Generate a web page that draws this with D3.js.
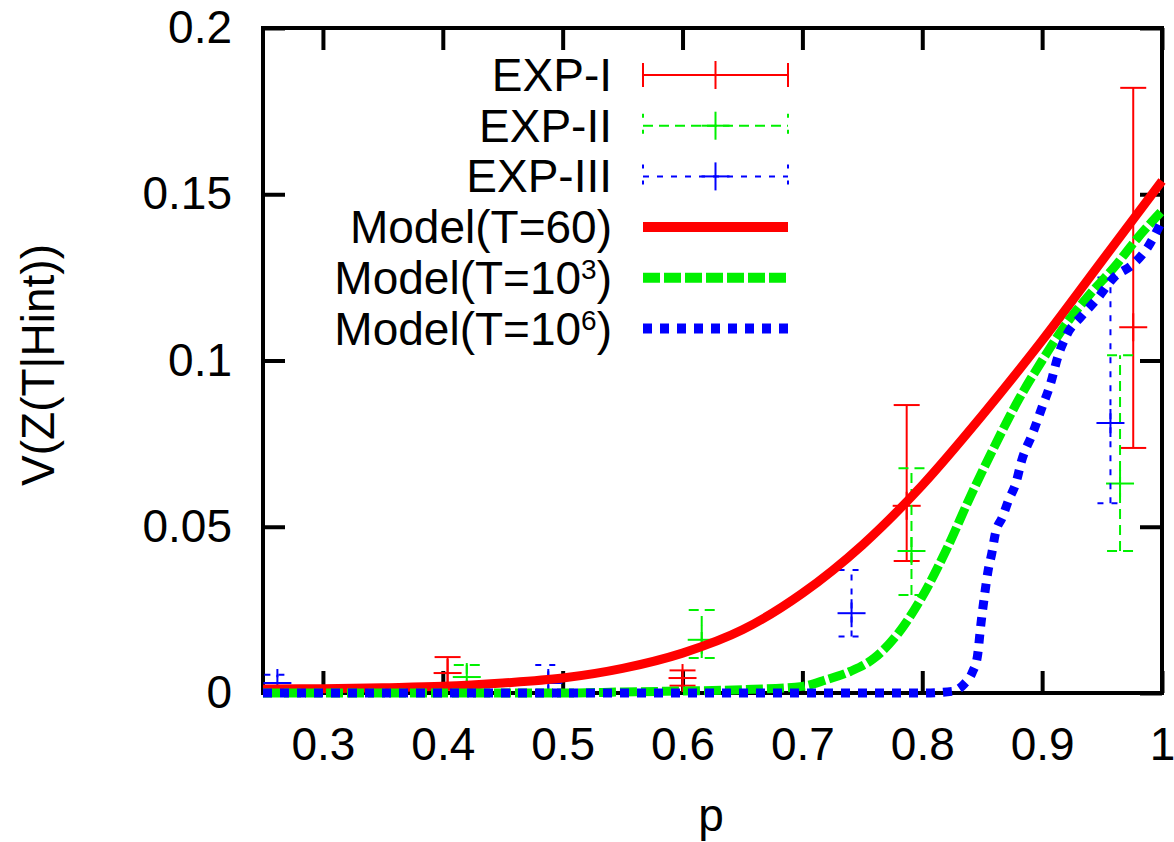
<!DOCTYPE html>
<html>
<head>
<meta charset="utf-8">
<script src="https://cdn.jsdelivr.net/npm/d3@7"></script>
<style>
  body { margin: 0; background: #fff; }
  text { font-family: "Liberation Sans", Arial, sans-serif; }
</style>
</head>
<body>
<div id="chart"></div>
<script>

//////////// *** DATA *** ////////////

var xTicks = [0.3, 0.4, 0.5, 0.6, 0.7, 0.8, 0.9, 1];
var yTicks = [0, 0.05, 0.1, 0.15, 0.2];

// model curves
var pT60  = [0.25, 0.3, 0.35, 0.4, 0.45, 0.5, 0.55, 0.6, 0.65, 0.7, 0.75, 0.8, 0.85, 0.9, 0.95, 1.0];
var vT60  = [0.0012, 0.0013, 0.0016, 0.002, 0.003, 0.0045, 0.0074, 0.012, 0.019, 0.03, 0.0445, 0.0625, 0.0835, 0.106, 0.13, 0.154];

var pT1e3 = [0.25, 0.4, 0.5, 0.55, 0.6, 0.65, 0.7, 0.72, 0.74, 0.76, 0.78, 0.8, 0.82, 0.84, 0.86, 0.88, 0.9, 0.92, 0.94, 0.96, 0.98, 1.0];
var vT1e3 = [0, 0, 0, 0.0003, 0.0006, 0.001, 0.002, 0.004, 0.0065, 0.0105, 0.018, 0.029, 0.043, 0.059, 0.074, 0.088, 0.1, 0.111, 0.12, 0.128, 0.137, 0.145];

var pT1e6 = [0.25, 0.5, 0.8, 0.825, 0.835, 0.842, 0.846, 0.849, 0.852, 0.855, 0.858, 0.861, 0.867, 0.872, 0.878, 0.883, 0.892, 0.9, 0.907, 0.913, 0.921, 0.932, 0.946, 0.96, 0.976, 0.988, 1.0];
var vT1e6 = [0, 0, 0, 0.0005, 0.0027, 0.0064, 0.011, 0.021, 0.0295, 0.037, 0.042, 0.048, 0.053, 0.058, 0.063, 0.07, 0.078, 0.086, 0.093, 0.101, 0.108, 0.113, 0.1186, 0.125, 0.129, 0.134, 0.142];

// experiments (value, low, high)
var pExp1  = [0.404, 0.6, 0.787, 0.976];
var vExp1  = [0.006, 0.0045, 0.0563, 0.11];
var loExp1 = [0.001, 0.0022, 0.0397, 0.0737];
var hiExp1 = [0.0108, 0.0068, 0.0866, 0.182];

var pExp2  = [0.42, 0.616, 0.791, 0.965];
var vExp2  = [0.0048, 0.016, 0.0427, 0.063];
var loExp2 = [0.001, 0.0105, 0.0295, 0.0427];
var hiExp2 = [0.0084, 0.025, 0.0676, 0.1016];

var pExp3  = [0.262, 0.488, 0.741, 0.957];
var vExp3  = [0.003, 0.003, 0.024, 0.0812];
var loExp3 = [0.0005, 0.0005, 0.017, 0.0571];
var hiExp3 = [0.0055, 0.0084, 0.037, 0.125];

//////////// *** VARIABLES *** ////////////

var W = 1174, H = 842;
var margin = {top: 28, right: 12, bottom: 149, left: 263},
    width = W - margin.left - margin.right,
    height = H - margin.top - margin.bottom;

var red = "#ff0000", green = "#00f000", blue = "#0000ff";

var svg = d3.select("#chart").append("svg")
  .attr("width", W)
  .attr("height", H);

var g = svg.append("g")
  .attr("transform", "translate(" + margin.left + "," + margin.top + ")");

var x = d3.scaleLinear().domain([0.25, 1]).range([0, width]);
var y = d3.scaleLinear().domain([0, 0.2]).range([height, 0]);

var fmt = function(d) { return String(+d.toFixed(2)); };

//////////// *** AXES *** ////////////

function styleAxis(sel) {
  sel.select(".domain").remove();
  sel.selectAll("line").attr("stroke", "#000").attr("stroke-width", 4);
  sel.selectAll("text").attr("font-size", 46).attr("fill", "#000")
    .style("font-family", "'Liberation Sans', Arial, sans-serif");
}

g.append("g")
  .attr("transform", "translate(0," + height + ")")
  .call(d3.axisBottom(x).tickValues(xTicks).tickFormat(fmt).tickSizeInner(-22).tickSizeOuter(0).tickPadding(34))
  .call(styleAxis);

g.append("g")
  .call(d3.axisTop(x).tickValues(xTicks).tickFormat("").tickSizeInner(-22).tickSizeOuter(0))
  .call(styleAxis);

g.append("g")
  .call(d3.axisLeft(y).tickValues(yTicks).tickFormat(fmt).tickSizeInner(-22).tickSizeOuter(0).tickPadding(31))
  .call(styleAxis);

g.append("g")
  .attr("transform", "translate(" + width + ",0)")
  .call(d3.axisRight(y).tickValues(yTicks).tickFormat("").tickSizeInner(-22).tickSizeOuter(0))
  .call(styleAxis);

g.append("rect")
  .attr("width", width)
  .attr("height", height)
  .attr("fill", "none")
  .attr("stroke", "#000")
  .attr("stroke-width", 4);

// axis titles
svg.append("text")
  .attr("x", 711)
  .attr("y", 831)
  .attr("text-anchor", "middle")
  .attr("font-size", 46)
  .text("p");

svg.append("text")
  .attr("transform", "translate(54,365) rotate(-90)")
  .attr("text-anchor", "middle")
  .attr("font-size", 46)
  .text("V(Z(T|Hint))");

//////////// *** ERROR BARS *** ////////////

function errorBars(ps, vs, los, his, color, dash) {
  var rows = ps.map(function(p, i) { return {p: p, v: vs[i], lo: los[i], hi: his[i]}; });
  var eg = g.append("g").attr("stroke", color).attr("stroke-width", 2).attr("fill", "none");

  eg.selectAll(".bar").data(rows).enter().append("line")
    .attr("x1", function(d) { return x(d.p); })
    .attr("x2", function(d) { return x(d.p); })
    .attr("y1", function(d) { return y(d.lo); })
    .attr("y2", function(d) { return y(d.hi); })
    .attr("stroke-dasharray", dash);

  ["lo", "hi"].forEach(function(k) {
    eg.selectAll(".cap-" + k).data(rows).enter().append("line")
      .attr("x1", function(d) { return x(d.p) - 13; })
      .attr("x2", function(d) { return x(d.p) + 13; })
      .attr("y1", function(d) { return y(d[k]); })
      .attr("y2", function(d) { return y(d[k]); })
      .attr("stroke-dasharray", dash);
  });

  // "+" point
  eg.selectAll(".ph").data(rows).enter().append("line")
    .attr("x1", function(d) { return x(d.p) - 14; })
    .attr("x2", function(d) { return x(d.p) + 14; })
    .attr("y1", function(d) { return y(d.v); })
    .attr("y2", function(d) { return y(d.v); });
  eg.selectAll(".pv").data(rows).enter().append("line")
    .attr("x1", function(d) { return x(d.p); })
    .attr("x2", function(d) { return x(d.p); })
    .attr("y1", function(d) { return y(d.v) - 14; })
    .attr("y2", function(d) { return y(d.v) + 14; });
}

errorBars(pExp1, vExp1, loExp1, hiExp1, red, null);
errorBars(pExp2, vExp2, loExp2, hiExp2, green, "10,6");
errorBars(pExp3, vExp3, loExp3, hiExp3, blue, "6,8");

//////////// *** MODEL CURVES *** ////////////

var line = d3.line()
  .curve(d3.curveMonotoneX)
  .x(function(d) { return x(d[0]); })
  .y(function(d) { return y(d[1]); });

function curve(ps, vs, color, dash) {
  g.append("path")
    .datum(d3.zip(ps, vs))
    .attr("d", line)
    .attr("fill", "none")
    .attr("stroke", color)
    .attr("stroke-width", 9)
    .attr("stroke-dasharray", dash);
}

curve(pT60, vT60, red, null);
curve(pT1e3, vT1e3, green, "17,4");
curve(pT1e6, vT1e6, blue, "9,8");

//////////// *** LEGEND *** ////////////

var legX0 = 643, legX1 = 788, legTextX = 612;
var legY = function(i) { return 75 + i * 50.7; };

var legend = [
  {label: "EXP-I", color: red, dash: null, bar: true},
  {label: "EXP-II", color: green, dash: "10,6", bar: true},
  {label: "EXP-III", color: blue, dash: "6,8", bar: true},
  {label: "Model(T=60)", color: red, dash: null, bar: false},
  {label: "Model(T=10", sup: "3", color: green, dash: "17,4", bar: false},
  {label: "Model(T=10", sup: "6", color: blue, dash: "9,8", bar: false}
];

legend.forEach(function(d, i) {
  var ly = legY(i);
  var t = svg.append("text")
    .attr("x", legTextX)
    .attr("y", ly + 16)
    .attr("text-anchor", "end")
    .attr("font-size", 46);
  if (d.sup) {
    t.append("tspan").text(d.label);
    t.append("tspan").attr("dy", -15).attr("font-size", 28).text(d.sup);
    t.append("tspan").attr("dy", 15).text(")");
  } else {
    t.text(d.label);
  }

  if (d.bar) {
    var lg = svg.append("g").attr("stroke", d.color).attr("stroke-width", 2);
    lg.append("line").attr("x1", legX0).attr("x2", legX1).attr("y1", ly).attr("y2", ly)
      .attr("stroke-dasharray", d.dash);
    [legX0, legX1].forEach(function(cx) {
      lg.append("line").attr("x1", cx).attr("x2", cx).attr("y1", ly - 12).attr("y2", ly + 12)
        .attr("stroke-dasharray", d.dash ? "4,12" : null);
    });
    var mid = (legX0 + legX1) / 2;
    lg.append("line").attr("x1", mid - 14).attr("x2", mid + 14).attr("y1", ly).attr("y2", ly);
    lg.append("line").attr("x1", mid).attr("x2", mid).attr("y1", ly - 14).attr("y2", ly + 14);
  } else {
    svg.append("line")
      .attr("x1", legX0).attr("x2", legX1).attr("y1", ly).attr("y2", ly)
      .attr("stroke", d.color).attr("stroke-width", 10)
      .attr("stroke-dasharray", d.dash);
  }
});

</script>
</body>
</html>
